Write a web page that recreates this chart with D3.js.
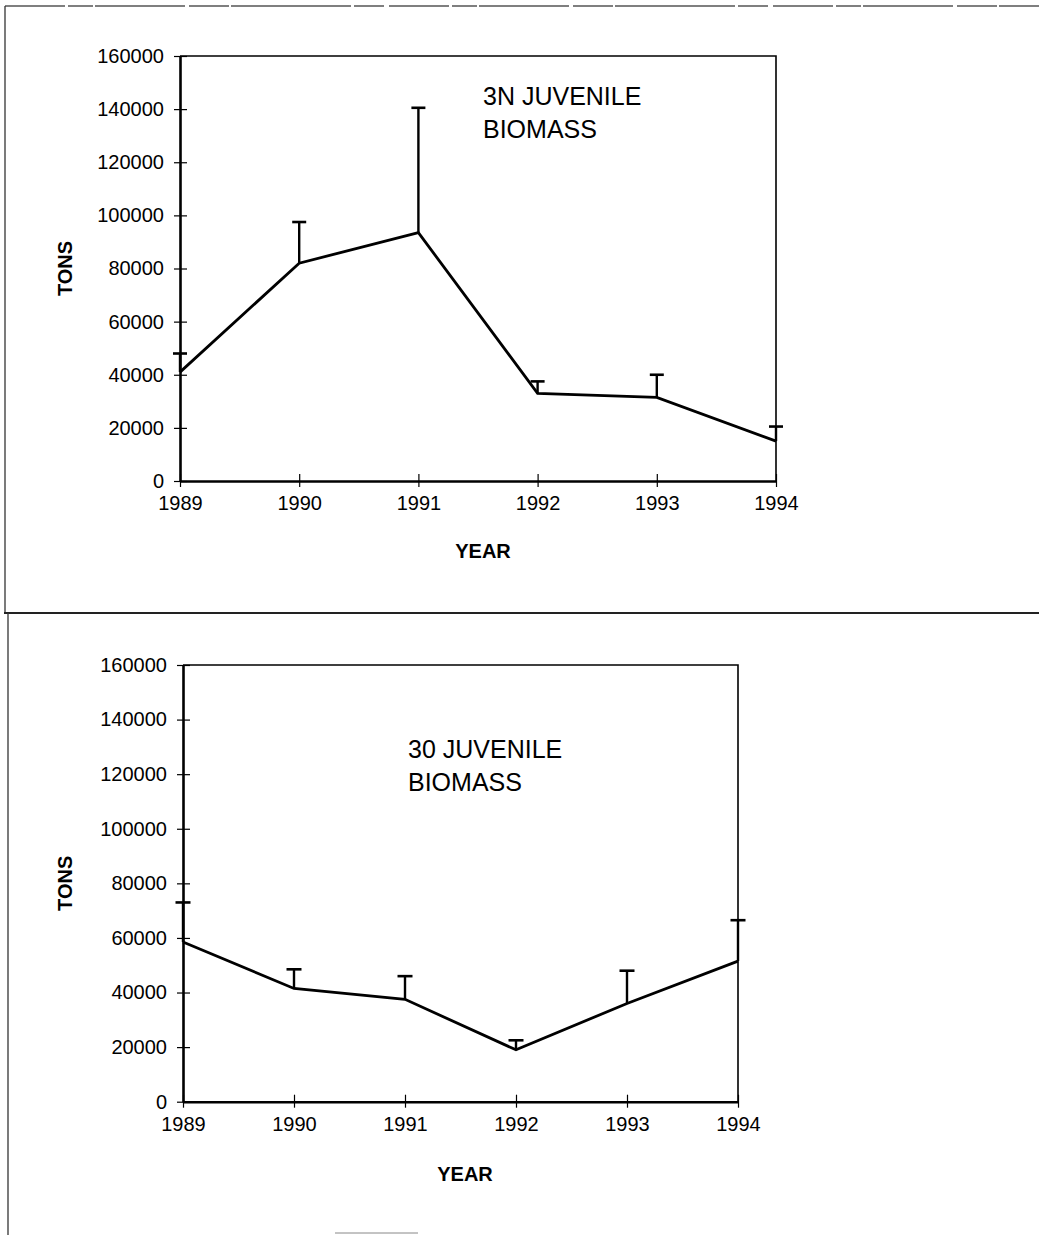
<!DOCTYPE html>
<html>
<head>
<meta charset="utf-8">
<script src="https://cdn.jsdelivr.net/npm/d3@7/dist/d3.min.js"></script>
<style>
  html, body { margin: 0; padding: 0; background: #fff; }
  svg { display: block; }
  text { font-family: "Liberation Sans", Arial, Helvetica, sans-serif; fill: #000; }
</style>
</head>
<body>
<svg id="chart" width="1039" height="1235"></svg>
<script>
// Survey years shared by both panels
const years = [1989, 1990, 1991, 1992, 1993, 1994];

// 3N juvenile biomass (tons) and upper error limits
const biomass3N = [41000, 82000, 93500, 33000, 31500, 15000];
const upper3N   = [48000, 97500, 140500, 37500, 40000, 20500];

// 3O juvenile biomass (tons) and upper error limits
const biomass3O = [58500, 41500, 37500, 19000, 36000, 51500];
const upper3O   = [73000, 48500, 46000, 22500, 48000, 66500];

// Axis ticks
const yTicks = [0, 20000, 40000, 60000, 80000, 100000, 120000, 140000, 160000];
const yDomain = [0, 160000];

// Panel titles
const title3N = ["3N JUVENILE", "BIOMASS"];
const title3O = ["30 JUVENILE", "BIOMASS"];

const svg = d3.select("#chart");

// Page frame lines around the two panels
const frame = svg.append("g").attr("fill", "none");
frame.append("line").attr("x1", 5).attr("y1", 6).attr("x2", 1039).attr("y2", 6)
  .attr("stroke", "#555").attr("stroke-width", 1.3)
  .attr("stroke-dasharray", "60 3 25 2 90 4 40 2 120 3 30 5");
frame.append("line").attr("x1", 5).attr("y1", 6).attr("x2", 5).attr("y2", 613)
  .attr("stroke", "#333").attr("stroke-width", 1.3);
frame.append("line").attr("x1", 4).attr("y1", 613).attr("x2", 1039).attr("y2", 613)
  .attr("stroke", "#222").attr("stroke-width", 2);
frame.append("line").attr("x1", 8).attr("y1", 613).attr("x2", 8).attr("y2", 1235)
  .attr("stroke", "#333").attr("stroke-width", 1.3);
frame.append("line").attr("x1", 335).attr("y1", 1233).attr("x2", 418).attr("y2", 1233)
  .attr("stroke", "#888").attr("stroke-width", 1);

function drawPanel(values, upper, titleLines, L) {
  const x = d3.scaleLinear().domain([years[0], years[years.length - 1]]).range([L.left, L.right]);
  const y = d3.scaleLinear().domain(yDomain).range([L.bottom, L.top]);
  const g = svg.append("g");

  // thin top and right frame of the plot area
  g.append("path")
    .attr("d", `M${L.left},${L.top}H${L.right}V${L.bottom}`)
    .attr("fill", "none").attr("stroke", "#000").attr("stroke-width", 1.6);

  // y axis
  const yAxis = g.append("g")
    .attr("transform", `translate(${L.left},0)`)
    .call(d3.axisLeft(y).tickValues(yTicks).tickFormat(d3.format("d"))
      .tickSizeInner(6).tickSizeOuter(0).tickPadding(10));
  yAxis.select(".domain").attr("stroke-width", 2.6);
  yAxis.selectAll(".tick line").attr("x1", 7).attr("stroke-width", 1.2);
  yAxis.selectAll(".tick text").attr("font-size", 20).attr("font-family", null).attr("fill", "#000");

  // x axis
  const xAxis = g.append("g")
    .attr("transform", `translate(0,${L.bottom})`)
    .call(d3.axisBottom(x).tickValues(years).tickFormat(d3.format("d"))
      .tickSizeInner(6).tickSizeOuter(0));
  xAxis.select(".domain").attr("stroke-width", 2.6);
  xAxis.selectAll(".tick line").attr("y1", -7).attr("stroke-width", 1.2);
  xAxis.selectAll(".tick text").attr("font-size", 20).attr("font-family", null)
    .attr("fill", "#000").attr("dy", null).attr("y", 29);
  xAxis.attr("font-family", null);
  yAxis.attr("font-family", null);

  // error bars (upper only)
  const err = g.append("g").attr("stroke", "#000");
  years.forEach((yr, i) => {
    err.append("line")
      .attr("x1", x(yr)).attr("x2", x(yr))
      .attr("y1", y(values[i])).attr("y2", y(upper[i]))
      .attr("stroke-width", 2.4);
    err.append("line")
      .attr("x1", x(yr) - L.cap / 2).attr("x2", x(yr) + L.cap / 2)
      .attr("y1", y(upper[i])).attr("y2", y(upper[i]))
      .attr("stroke-width", 2.6);
  });

  // biomass line
  const line = d3.line().x((d, i) => x(years[i])).y(d => y(d));
  g.append("path")
    .datum(values)
    .attr("d", line)
    .attr("fill", "none").attr("stroke", "#000")
    .attr("stroke-width", 2.8).attr("stroke-linejoin", "miter");

  // panel title inside the plot
  const t = g.append("text").attr("font-size", 25);
  titleLines.forEach((s, i) => {
    t.append("tspan").attr("x", L.titleX).attr("y", L.titleY + i * 33).text(s);
  });

  // axis titles
  g.append("text")
    .attr("x", L.yearX).attr("y", L.yearY)
    .attr("text-anchor", "middle").attr("font-size", 20).attr("font-weight", "bold")
    .text("YEAR");
  g.append("text")
    .attr("transform", `translate(72,${(L.top + L.bottom) / 2}) rotate(-90)`)
    .attr("text-anchor", "middle").attr("font-size", 20).attr("font-weight", "bold")
    .text("TONS");
}

drawPanel(biomass3N, upper3N, title3N, {
  left: 180, right: 776, top: 56, bottom: 481, cap: 14,
  titleX: 483, titleY: 105, yearX: 483, yearY: 558
});

drawPanel(biomass3O, upper3O, title3O, {
  left: 183, right: 738, top: 665, bottom: 1101.7, cap: 15,
  titleX: 408, titleY: 758, yearX: 465, yearY: 1181
});
</script>
</body>
</html>
